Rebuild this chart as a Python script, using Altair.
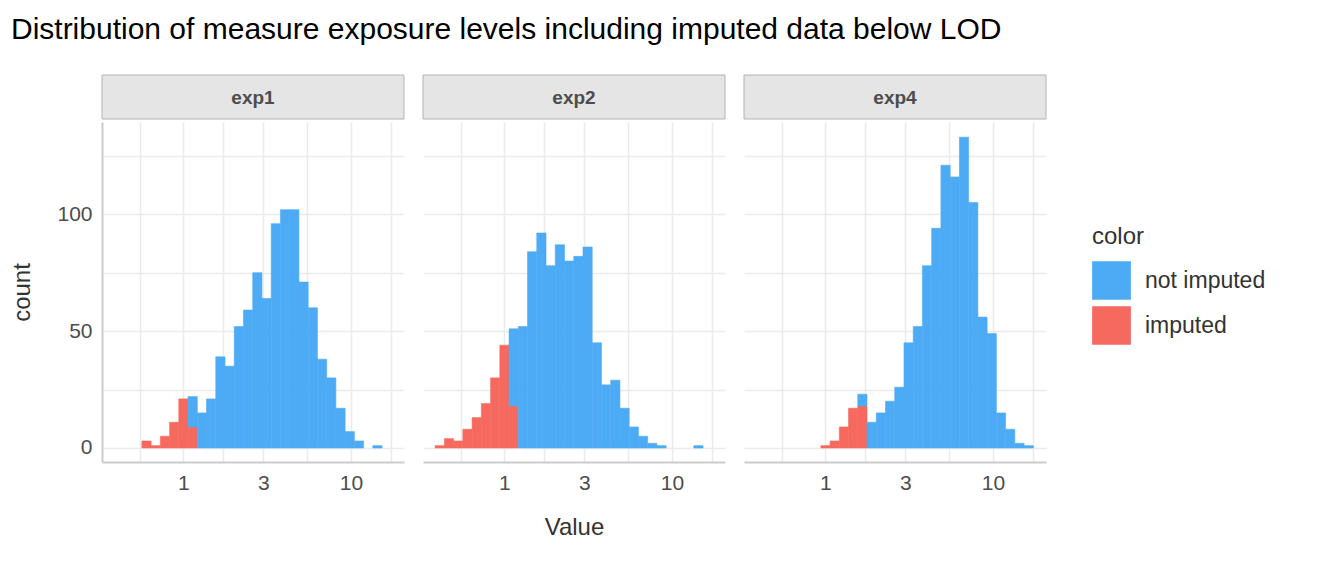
import pandas as pd
import altair as alt

# bins share one log10 grid: edge k = BIN0 + k * BINW
BIN0 = -0.248
BINW = 0.05516

panels = ["exp1", "exp2", "exp4"]

# (first bin index, counts) per panel and group
imputed = {
    "exp1": (0, [3, 1, 5, 11, 21, 9]),
    "exp2": (-3, [1, 4, 3, 8, 13, 19, 30, 44, 18]),
    "exp4": (4, [1, 3, 9, 17, 18]),
}
not_imputed = {
    "exp1": (5, [13, 15, 21, 39, 35, 52, 59, 75, 64, 96, 102, 102, 71, 60, 38, 30, 17, 7, 3, 0, 1]),
    "exp2": (5, [33, 52, 84, 92, 78, 87, 80, 82, 86, 45, 27, 29, 17, 9, 5, 2, 1, 0, 0, 0, 1]),
    "exp4": (8, [5, 11, 15, 20, 26, 45, 52, 78, 94, 121, 116, 133, 105, 56, 49, 15, 8, 2, 1]),
}

x_ticks = [-0.261, 0, 0.2386, 0.4771, 0.7386, 1, 1.2386]
y_ticks = [0, 25, 50, 75, 100, 125]

rows = []
for p in panels:
    base = {}
    for grp, src in [("imputed", imputed), ("not imputed", not_imputed)]:
        k0, counts = src[p]
        for i, c in enumerate(counts):
            k = k0 + i
            if c == 0:
                continue
            lo = base.get(k, 0)
            rows.append({"panel": p, "color": grp, "x0": BIN0 + k * BINW,
                         "x1": BIN0 + (k + 1) * BINW, "y0": lo, "y1": lo + c})
            base[k] = lo + c
df = pd.DataFrame(rows)

FONT = "Liberation Sans"
cscale = alt.Scale(domain=["not imputed", "imputed"], range=["#4dabf5", "#f6695e"])
color = alt.Color("color:N", title="color", scale=cscale,
                  legend=alt.Legend(orient="none", legendX=990, legendY=150,
                                    symbolType="square", symbolSize=1500, symbolStrokeWidth=0,
                                    labelFontSize=23, titleFontSize=24, titleFontWeight="normal",
                                    labelColor="#333333", titleColor="#333333", labelFont=FONT,
                                    titleFont=FONT, rowPadding=6, titlePadding=12,
                                    labelOffset=14, symbolOpacity=1))

label_expr = ("abs(datum.value)<0.01?'1':abs(datum.value-0.4771)<0.01?'3':"
              "abs(datum.value-1)<0.01?'10':''")

columns = []
for j, p in enumerate(panels):
    xaxis = alt.Axis(values=x_ticks, labelExpr=label_expr, title="Value" if j == 1 else "",
                     grid=True, gridColor="#ebebeb", gridWidth=1.5, ticks=False,
                     domainColor="#cccccc", domainWidth=2, labelFontSize=21, labelColor="#4d4d4d",
                     labelFont=FONT, titleFont=FONT, titleFontSize=24, titleFontWeight="normal",
                     titleColor="#333333", titlePadding=22, labelPadding=10)
    yaxis = alt.Axis(values=y_ticks, labelExpr="datum.value%50==0?datum.label:''",
                     title="count" if j == 0 else "", grid=True, gridColor="#ebebeb",
                     gridWidth=1.5, ticks=False, domain=(j == 0), domainColor="#cccccc",
                     domainWidth=2, labels=(j == 0), labelFontSize=21, labelColor="#4d4d4d",
                     labelFont=FONT, titleFont=FONT, titleFontSize=24, titleFontWeight="normal",
                     titleColor="#333333", titlePadding=22, labelPadding=10)
    bars = alt.Chart(df[df.panel == p]).mark_bar(opacity=1, strokeWidth=0.6).encode(
        x=alt.X("x0:Q", scale=alt.Scale(domain=[-0.486, 1.317], nice=False, zero=False), axis=xaxis),
        x2="x1:Q",
        y=alt.Y("y0:Q", scale=alt.Scale(domain=[-6, 139.5], nice=False), axis=yaxis),
        y2="y1:Q",
        color=color,
        stroke=alt.Stroke("color:N", scale=cscale, legend=None),
    ).properties(width=302, height=340)
    strip_data = alt.Data(values=[{"label": p}])
    strip_box = alt.Chart(strip_data).mark_rect(fill="#e5e5e5", stroke="#b3b3b3", strokeWidth=1).encode(
        x=alt.value(0), x2=alt.value(302), y=alt.value(0), y2=alt.value(44))
    strip_text = alt.Chart(strip_data).mark_text(font=FONT, fontSize=19, fontWeight="bold",
                                                 color="#4d4d4d").encode(
        text="label:N", x=alt.value(151), y=alt.value(23))
    strip = alt.layer(strip_box, strip_text).properties(width=302, height=44)
    columns.append(alt.vconcat(strip, bars, spacing=2))

chart = alt.hconcat(*columns, spacing=17).properties(
    padding={"left": 2, "top": 6, "right": 5, "bottom": 5},
    title=alt.TitleParams("Distribution of measure exposure levels including imputed data below LOD",
                          anchor="start", font=FONT, fontSize=30, fontWeight="normal",
                          color="#000000", offset=30),
).configure_view(stroke=None)

chart.save("out.html", embed_options={"renderer": "svg", "actions": False})
